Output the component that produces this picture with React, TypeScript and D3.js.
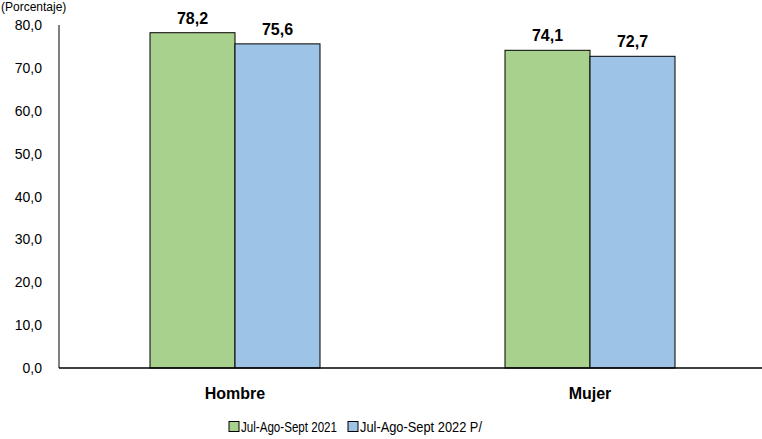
import React from "react";
import * as d3 from "d3";

const categories = ["Hombre", "Mujer"];
const seriesNames = ["Jul-Ago-Sept 2021", "Jul-Ago-Sept 2022 P/"];
const series2021 = [78.2, 74.1];
const series2022 = [75.6, 72.7];
const tickValues = [0, 10, 20, 30, 40, 50, 60, 70, 80];
const colors = ["#A9D18E", "#9DC3E6"];

const W = 762;
const H = 439;
const FONT = "'Liberation Sans', Arial, sans-serif";

export default function App() {
  const x = d3.scaleBand<string>().domain(categories).range([57.5, 767.5]).paddingInner(0).paddingOuter(0);
  const y = d3.scaleLinear().domain([0, 80]).range([368, 25]);
  const sub = d3.scaleBand<number>().domain([0, 1]).range([0, 170]);
  const data = [series2021, series2022];
  const fmt = (v: number) => d3.format(".1f")(v).replace(".", ",");

  return (
    <svg width={W} height={H} style={{ position: "absolute", left: 0, top: 0 }}>
      <rect width={W} height={H} fill="#fff" />
      <text x={1} y={11} fontFamily={FONT} fontSize={12} fill="#000">(Porcentaje)</text>
      {tickValues.map((t) => (
        <text key={t} x={42} y={y(t) + 5} textAnchor="end" fontFamily={FONT} fontSize={14} fill="#000">
          {fmt(t)}
        </text>
      ))}
      {categories.map((c, ci) => {
        const cx = (x(c) as number) + x.bandwidth() / 2;
        const gx = cx - 85;
        return (
          <g key={c}>
            {data.map((s, si) => {
              const v = s[ci];
              const bx = gx + (sub(si) as number);
              return (
                <g key={si}>
                  <rect x={bx} y={y(v)} width={sub.bandwidth()} height={y(0) - y(v)} fill={colors[si]} stroke="#000" strokeWidth={1} />
                  <text x={bx + sub.bandwidth() / 2} y={y(v) - 9} textAnchor="middle" fontFamily={FONT} fontSize={16} fontWeight="bold" fill="#000">
                    {fmt(v)}
                  </text>
                </g>
              );
            })}
            <text x={cx} y={399} textAnchor="middle" fontFamily={FONT} fontSize={16} fontWeight="bold" fill="#000">
              {c}
            </text>
          </g>
        );
      })}
      <line x1={59} x2={59} y1={25} y2={368} stroke="#000" strokeWidth={1} />
      <line x1={59} x2={W} y1={368} y2={368} stroke="#000" strokeWidth={1.5} />
      {seriesNames.map((n, i) => {
        const lx = i === 0 ? 229 : 348;
        const len = i === 0 ? 96 : 122;
        return (
          <g key={n}>
            <rect x={lx} y={421.5} width={10} height={10} fill={colors[i]} stroke="#000" strokeWidth={1} />
            <text x={lx + 12} y={431.5} fontFamily={FONT} fontSize={14} fill="#000" textLength={len} lengthAdjust="spacingAndGlyphs">{n}</text>
          </g>
        );
      })}
    </svg>
  );
}
